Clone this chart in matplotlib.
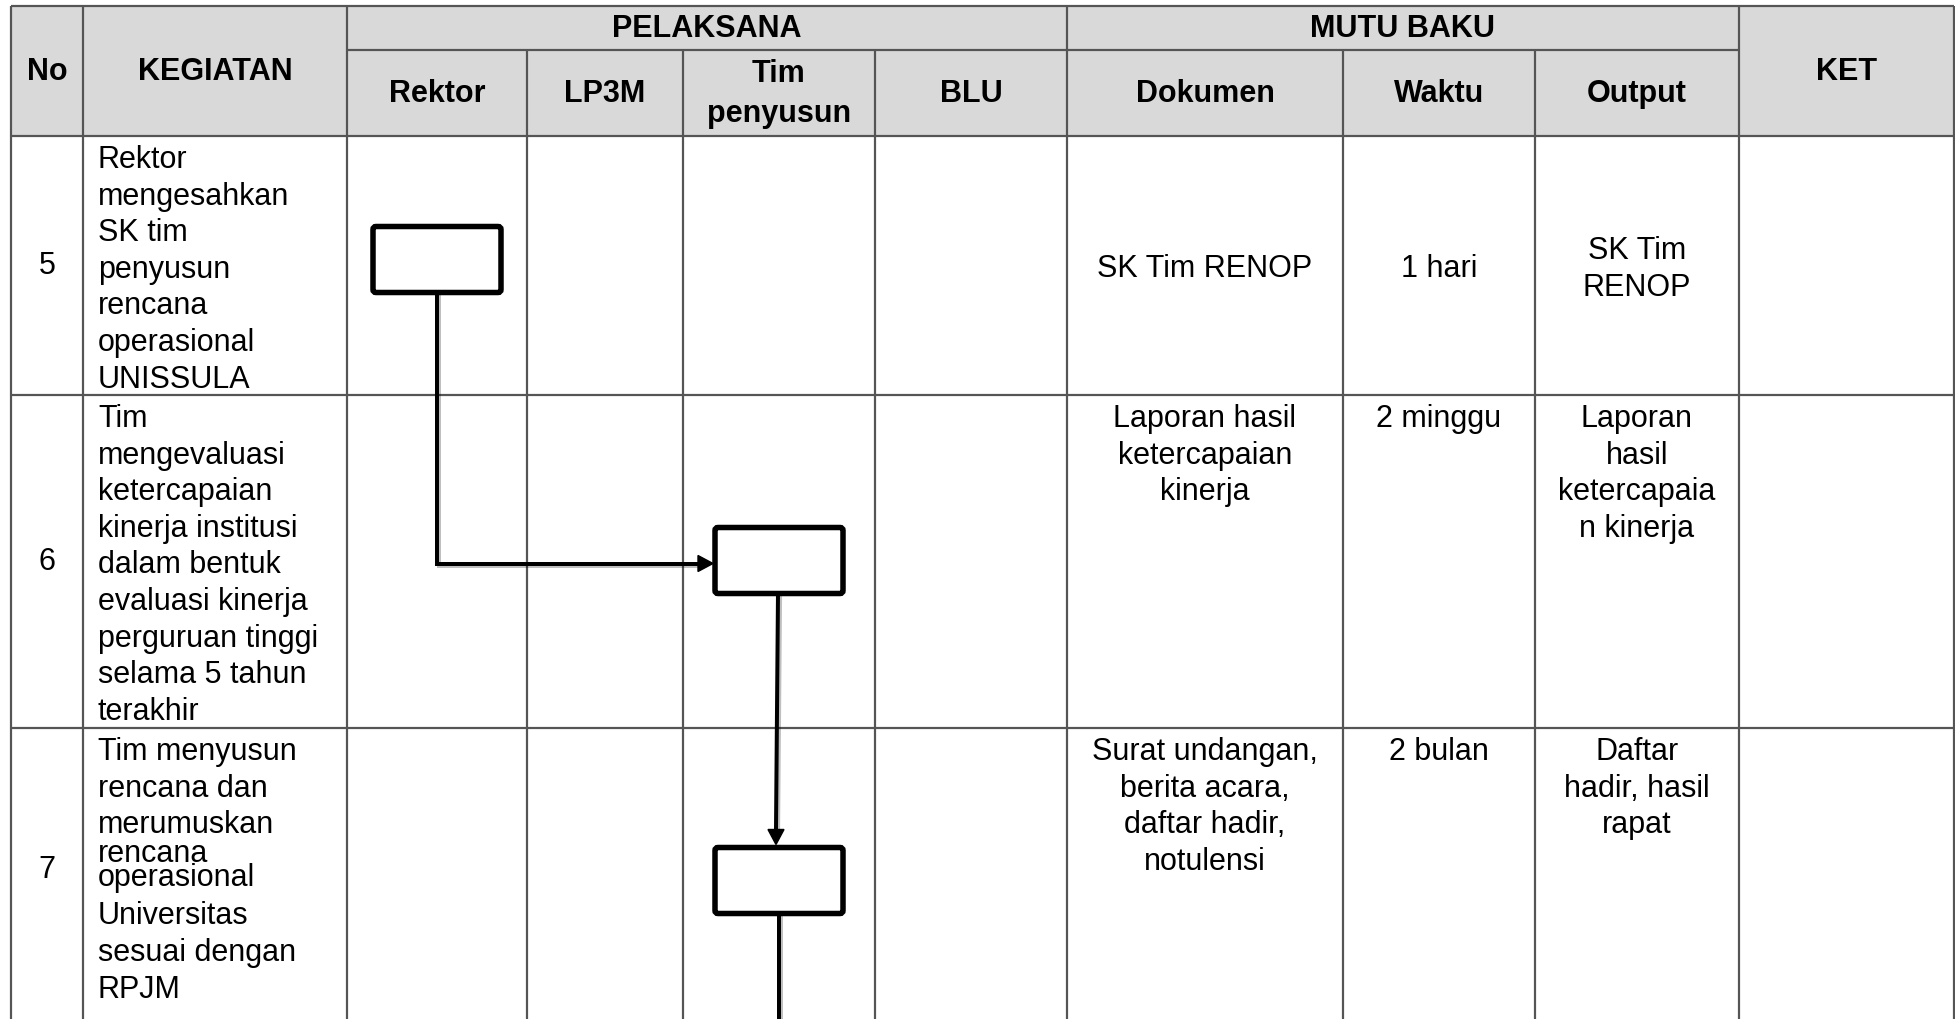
import numpy as np
import matplotlib.pyplot as plt
from matplotlib.patches import Rectangle, FancyBboxPatch, Polygon
import matplotlib.patheffects as pe

plt.rcParams['font.family'] = ['Liberation Sans', 'DejaVu Sans']

# ---- table content ----
group_titles = ["PELAKSANA", "MUTU BAKU"]
col_titles = ["No", "KEGIATAN", "Rektor", "LP3M", "Tim\npenyusun", "BLU",
              "Dokumen", "Waktu", "Output", "KET"]

row_no = ["5", "6", "7"]
kegiatan = [
    ["Rektor", "mengesahkan", "SK tim", "penyusun", "rencana", "operasional", "UNISSULA"],
    ["Tim", "mengevaluasi", "ketercapaian", "kinerja institusi", "dalam bentuk",
     "evaluasi kinerja", "perguruan tinggi", "selama 5 tahun", "terakhir"],
    ["Tim menyusun", "rencana dan", "merumuskan", "rencana", "operasional",
     "Universitas", "sesuai dengan", "RPJM"],
]
dokumen = [["SK Tim RENOP"],
           ["Laporan hasil", "ketercapaian", "kinerja"],
           ["Surat undangan,", "berita acara,", "daftar hadir,", "notulensi"]]
waktu = [["1 hari"], ["2 minggu"], ["2 bulan"]]
output = [["SK Tim", "RENOP"],
          ["Laporan", "hasil", "ketercapaia", "n kinerja"],
          ["Daftar", "hadir, hasil", "rapat"]]

# flow steps: (row index, lane name)
flow_steps = [(0, "Rektor"), (1, "Tim\npenyusun"), (2, "Tim\npenyusun")]

# ---- layout (pixels) ----
W, H = 1955, 1020
col_x = [11, 83, 347, 527, 683, 875, 1067, 1343, 1535, 1739, 1954]
y_top, y_mid, y_head = 7, 51, 137
row_y = [137, 396, 729, 1040]
line_gap = 36.6
row7_gaps = [36.6, 36.6, 29, 24, 38, 37, 37]
box_yc = [260.5, 561.5, 881.5]
box_w, box_h = 128, 66
grid_c = '#555555'
fs = 22
px = 0.72  # points per pixel at dpi 100

fig = plt.figure(figsize=(W / 100, H / 100), dpi=100)
ax = fig.add_axes([0, 0, 1, 1])
ax.set_xlim(0, W)
ax.set_ylim(H, 0)
ax.axis('off')

# header fill
ax.add_patch(Rectangle((col_x[0], y_top), col_x[-1] - col_x[0], y_head - y_top,
                       facecolor='#d9d9d9', edgecolor='none', zorder=0))

# grid lines
lw = 2.2 * px
ax.hlines([y_top, y_head] + row_y[1:3], col_x[0], col_x[-1], color=grid_c, lw=lw, zorder=1)
ax.hlines(y_mid, col_x[2], col_x[9], color=grid_c, lw=lw, zorder=1)
for i, x in enumerate(col_x):
    y0 = y_mid if i in (3, 4, 5, 7, 8) else y_top
    ax.vlines(x, y0, H + 5, color=grid_c, lw=lw, zorder=1)

# header text
hkw = dict(fontsize=fs, fontweight='bold', ha='center', va='center', color='black')
ax.text((col_x[2] + col_x[6]) / 2, 29, group_titles[0], **hkw)
ax.text((col_x[6] + col_x[9]) / 2, 29, group_titles[1], **hkw)
for i, t in enumerate(col_titles):
    xc = (col_x[i] + col_x[i + 1]) / 2
    if i in (0, 1, 9):
        ax.text(xc, 72, t, **hkw)
    else:
        ax.text(xc, 94, t, linespacing=1.4, **hkw)


def draw_lines(lines, x, y0, gaps, ha):
    y = y0
    for k, s in enumerate(lines):
        ax.text(x, y, s, fontsize=fs, ha=ha, va='baseline', color='black')
        if k < len(gaps):
            y += gaps[k]


for r in range(3):
    top, bot = row_y[r], row_y[r + 1]
    yc = (top + min(bot, 1011)) / 2
    ax.text((col_x[0] + col_x[1]) / 2, yc, row_no[r], fontsize=fs, ha='center',
            va='center', color='black')
    gaps = row7_gaps if r == 2 else [line_gap] * 10
    draw_lines(kegiatan[r], col_x[1] + 15, top + 31, gaps, 'left')
    for ci, cell in zip((6, 7, 8), (dokumen[r], waktu[r], output[r])):
        xc = (col_x[ci] + col_x[ci + 1]) / 2
        if r == 0:
            y0 = yc + 11 - (len(cell) - 1) / 2 * line_gap
        else:
            y0 = top + 31
        draw_lines(cell, xc, y0, [line_gap] * 10, 'center')

# flow chart boxes and connectors
shadow = [pe.SimpleLineShadow(offset=(1.5, -1.5), alpha=0.25), pe.Normal()]
centers = []
for (r, lane), yc in zip(flow_steps, box_yc):
    ci = col_titles.index(lane)
    xc = (col_x[ci] + col_x[ci + 1]) / 2
    centers.append((xc, yc))
    ax.add_patch(FancyBboxPatch((xc - box_w / 2, yc - box_h / 2), box_w, box_h,
                                boxstyle='round,pad=0,rounding_size=3',
                                facecolor='white', edgecolor='black', lw=5.5 * px, zorder=4))

clw = 4 * px
head_l, head_w = 15, 8
# step 1 -> step 2 (down, then right)
(x1, y1), (x2, y2) = centers[0], centers[1]
tip = x2 - box_w / 2 - 2
ax.plot([x1, x1, tip - head_l], [y1 + box_h / 2, y2 + 3, y2 + 3], color='black',
        lw=clw, solid_joinstyle='miter', path_effects=shadow, zorder=3)
ax.add_patch(Polygon([[tip - head_l, y2 + 3 - head_w], [tip, y2 + 3],
                      [tip - head_l, y2 + 3 + head_w]], color='black', zorder=3))
# step 2 -> step 3 (down)
(x3, y3) = centers[2]
tip = y3 - box_h / 2 - 3
ax.plot([x2 - 1, x3 - 3], [y2 + box_h / 2, tip - head_l], color='black', lw=clw,
        path_effects=shadow, zorder=3)
ax.add_patch(Polygon([[x3 - 3 - head_w, tip - head_l], [x3 - 3, tip],
                      [x3 - 3 + head_w, tip - head_l]], color='black', zorder=3))
# step 3 continues down
ax.plot([x3, x3], [y3 + box_h / 2, H + 5], color='black', lw=clw,
        path_effects=shadow, zorder=3)

fig.savefig('out.png', dpi=100)
